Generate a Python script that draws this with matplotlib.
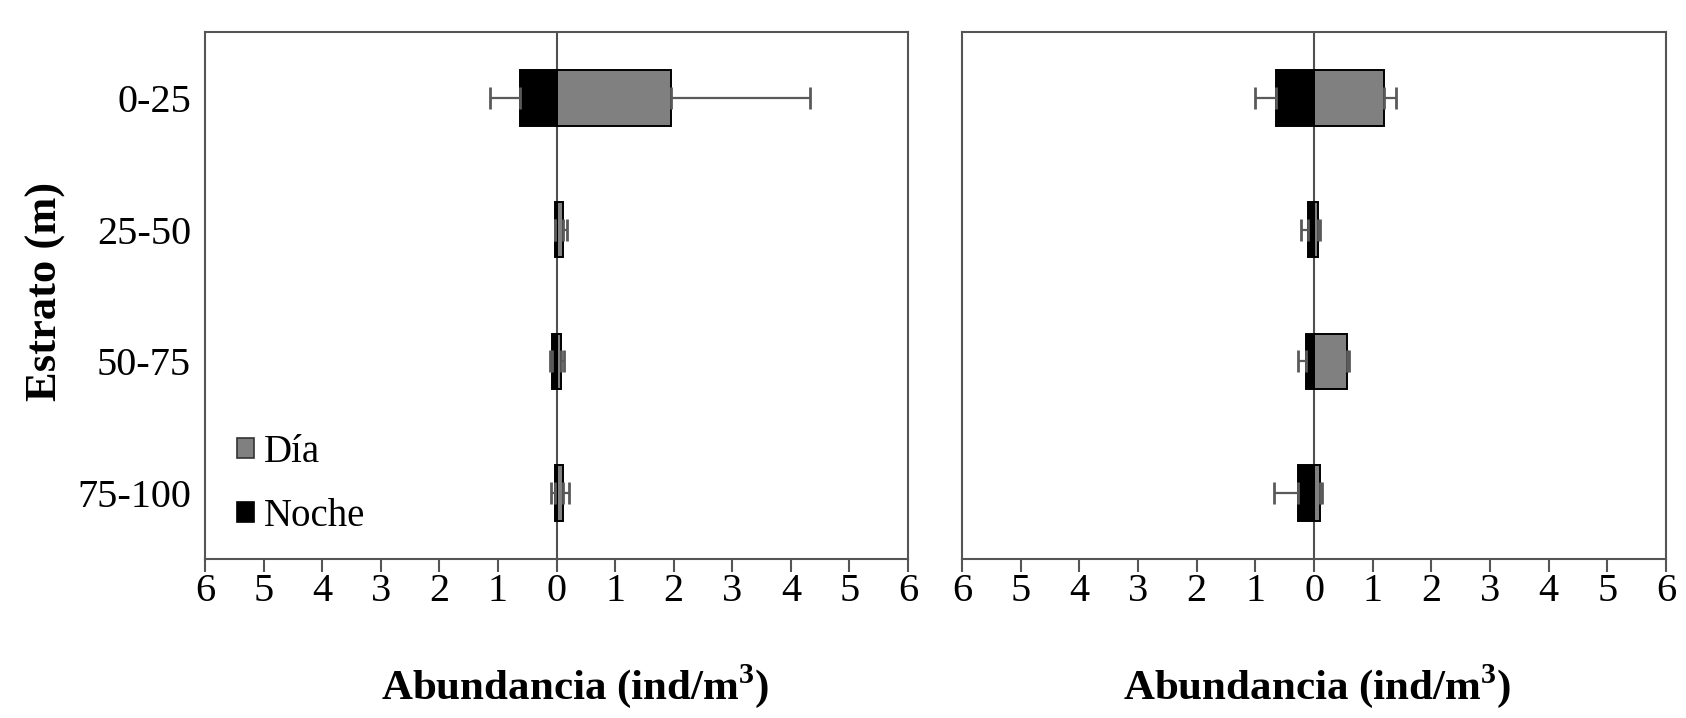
import matplotlib
matplotlib.use("Agg")
import matplotlib.pyplot as plt
from matplotlib.patches import Patch
import numpy as np

plt.rcParams['font.family'] = ['Liberation Serif', 'DejaVu Serif']

categories = ["0-25", "25-50", "50-75", "75-100"]

# Left panel
left_dia = [1.95, 0.11, 0.08, 0.11]
left_dia_err = [2.38, 0.07, 0.045, 0.10]
left_noche = [0.63, 0.03, 0.085, 0.03]
left_noche_err = [0.51, 0.0, 0.025, 0.07]

# Right panel
right_dia = [1.20, 0.06, 0.56, 0.10]
right_dia_err = [0.20, 0.04, 0.04, 0.04]
right_noche = [0.65, 0.11, 0.14, 0.27]
right_noche_err = [0.35, 0.12, 0.13, 0.41]

xticks = [-6, -5, -4, -3, -2, -1, 0, 1, 2, 3, 4, 5, 6]
xticklabels = ["6", "5", "4", "3", "2", "1", "0", "1", "2", "3", "4", "5", "6"]

W, H = 1686, 718
fig = plt.figure(figsize=(W / 100, H / 100), dpi=100)
axL = fig.add_axes([205 / W, 1 - 559 / H, 703 / W, 527 / H])
axR = fig.add_axes([962 / W, 1 - 559 / H, 704 / W, 527 / H])

spine_c = '#555555'
err_c = '#5a5a5a'
y = np.arange(len(categories))
bh = 0.42

def draw(ax, dia, dia_err, noche, noche_err, show_y, xlab_x):
    noche_neg = [-v for v in noche]
    ax.axvline(0, color='#505050', lw=1.5, zorder=1)
    ax.barh(y, dia, height=bh, color='#808080', edgecolor='black', lw=1.4, zorder=2, label='Día')
    ax.barh(y, noche_neg, height=bh, color='black', edgecolor='black', lw=1.4, zorder=2, label='Noche')
    ax.errorbar(dia, y, xerr=[np.zeros(len(dia)), dia_err], fmt='none', ecolor=err_c,
                elinewidth=1.6, capsize=8, capthick=2.0, zorder=3)
    ax.errorbar(noche_neg, y, xerr=[noche_err, np.zeros(len(noche))], fmt='none', ecolor=err_c,
                elinewidth=1.6, capsize=8, capthick=2.0, zorder=3)
    ax.set_xlim(-6, 6)
    ax.set_ylim(3.5, -0.5)
    ax.set_xticks(xticks)
    ax.set_xticklabels(xticklabels, fontsize=29)
    ax.tick_params(axis='x', direction='out', length=9, width=1.5, color=spine_c, pad=1)
    ax.tick_params(axis='y', length=0, pad=10)
    ax.set_yticks(y)
    if show_y:
        ax.set_yticklabels(categories, fontsize=29)
    else:
        ax.set_yticklabels([])
    for s in ax.spines.values():
        s.set_color(spine_c)
        s.set_linewidth(1.5)
    lab = ax.set_xlabel('Abundancia (ind/m$^\\mathregular{3}$)', fontsize=31, fontweight='bold')
    ax.xaxis.set_label_coords(xlab_x, -0.241)
    lab.set_va('center')

draw(axL, left_dia, left_dia_err, left_noche, left_noche_err, True, 0.526)
draw(axR, right_dia, right_dia_err, right_noche, right_noche_err, False, 0.505)
ylab = axL.set_ylabel('Estrato (m)', fontsize=32, fontweight='bold')
axL.yaxis.set_label_coords(-0.226, 0.507)
ylab.set_va('center')

handles = [Patch(facecolor='#808080', edgecolor='#333333', lw=1.2, label='Día'),
           Patch(facecolor='black', edgecolor='black', lw=1.2, label='Noche')]
axL.legend(handles=handles, loc='lower left', bbox_to_anchor=(0.046, 0.045), frameon=False,
           fontsize=28, handlelength=0.42, handleheight=0.42, handletextpad=0.25,
           labelspacing=0.7, borderpad=0, borderaxespad=0)

fig.savefig('out.png', dpi=100)
